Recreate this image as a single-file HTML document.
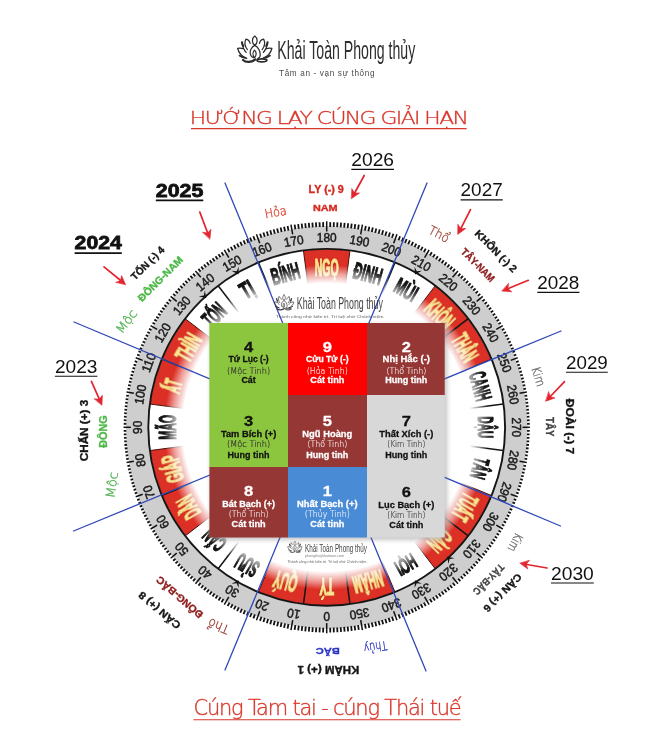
<!DOCTYPE html>
<html lang="vi"><head><meta charset="utf-8"><title>Hướng lạy cúng giải hạn</title>
<style>
html,body{margin:0;padding:0;background:#fff;}
body{width:665px;height:744px;overflow:hidden;}
svg{display:block;}
text{font-family:"Liberation Sans",sans-serif;}
.b{font-weight:bold;}
.lt{font-family:"DejaVu Sans Light","DejaVu Sans","Liberation Sans",sans-serif;font-weight:200;}
</style></head><body>
<svg width="665" height="744" viewBox="0 0 665 744">
<defs>
<radialGradient id="fade" gradientUnits="userSpaceOnUse" cx="326.7" cy="427.3" r="162.5">
<stop offset="0" stop-color="#fff" stop-opacity="1"/>
<stop offset="0.886" stop-color="#fff" stop-opacity="1"/>
<stop offset="0.945" stop-color="#fff" stop-opacity="0.55"/>
<stop offset="1" stop-color="#fff" stop-opacity="0"/>
</radialGradient>
<filter id="sh" x="-10%" y="-10%" width="120%" height="120%"><feGaussianBlur stdDeviation="1.9"/></filter>
<filter id="ts" x="-20%" y="-20%" width="140%" height="140%"><feDropShadow dx="0.5" dy="0.6" stdDeviation="0.7" flood-color="#7a2408" flood-opacity="0.95"/></filter>
<filter id="soft"><feGaussianBlur stdDeviation="0.35"/></filter>

</defs>
<rect width="665" height="744" fill="#fff"/>

<g id="sectors">
<path d="M349.93 603.78 A178.0 178.0 0 0 1 303.47 603.78 L309.47 558.17 A132.0 132.0 0 0 0 343.93 558.17 Z" fill="#dc3026"/>
<path d="M303.47 603.78 A178.0 178.0 0 0 1 258.58 591.75 L276.19 549.25 A132.0 132.0 0 0 0 309.47 558.17 Z" fill="#dc3026"/>
<path d="M185.48 535.66 A178.0 178.0 0 0 1 162.25 495.42 L204.75 477.81 A132.0 132.0 0 0 0 221.98 507.66 Z" fill="#dc3026"/>
<path d="M162.25 495.42 A178.0 178.0 0 0 1 150.22 450.53 L195.83 444.53 A132.0 132.0 0 0 0 204.75 477.81 Z" fill="#dc3026"/>
<path d="M150.22 404.07 A178.0 178.0 0 0 1 162.25 359.18 L204.75 376.79 A132.0 132.0 0 0 0 195.83 410.07 Z" fill="#dc3026"/>
<path d="M162.25 359.18 A178.0 178.0 0 0 1 185.48 318.94 L221.98 346.94 A132.0 132.0 0 0 0 204.75 376.79 Z" fill="#dc3026"/>
<path d="M303.47 250.82 A178.0 178.0 0 0 1 349.93 250.82 L343.93 296.43 A132.0 132.0 0 0 0 309.47 296.43 Z" fill="#dc3026"/>
<path d="M435.06 286.08 A178.0 178.0 0 0 1 467.92 318.94 L431.42 346.94 A132.0 132.0 0 0 0 407.06 322.58 Z" fill="#dc3026"/>
<path d="M467.92 318.94 A178.0 178.0 0 0 1 491.15 359.18 L448.65 376.79 A132.0 132.0 0 0 0 431.42 346.94 Z" fill="#dc3026"/>
<path d="M491.15 495.42 A178.0 178.0 0 0 1 467.92 535.66 L431.42 507.66 A132.0 132.0 0 0 0 448.65 477.81 Z" fill="#dc3026"/>
<path d="M467.92 535.66 A178.0 178.0 0 0 1 435.06 568.52 L407.06 532.02 A132.0 132.0 0 0 0 431.42 507.66 Z" fill="#dc3026"/>
<path d="M394.82 591.75 A178.0 178.0 0 0 1 349.93 603.78 L343.93 558.17 A132.0 132.0 0 0 0 377.21 549.25 Z" fill="#dc3026"/>
<line x1="303.47" y1="603.78" x2="309.47" y2="558.17" stroke="#141414" stroke-width="1.5"/>
<line x1="258.58" y1="591.75" x2="276.19" y2="549.25" stroke="#4a100c" stroke-width="1"/>
<line x1="218.34" y1="568.52" x2="246.34" y2="532.02" stroke="#141414" stroke-width="1.5"/>
<line x1="185.48" y1="535.66" x2="221.98" y2="507.66" stroke="#4a100c" stroke-width="1"/>
<line x1="162.25" y1="495.42" x2="204.75" y2="477.81" stroke="#141414" stroke-width="1.5"/>
<line x1="150.22" y1="450.53" x2="195.83" y2="444.53" stroke="#4a100c" stroke-width="1"/>
<line x1="150.22" y1="404.07" x2="195.83" y2="410.07" stroke="#4a100c" stroke-width="1"/>
<line x1="162.25" y1="359.18" x2="204.75" y2="376.79" stroke="#141414" stroke-width="1.5"/>
<line x1="185.48" y1="318.94" x2="221.98" y2="346.94" stroke="#4a100c" stroke-width="1"/>
<line x1="218.34" y1="286.08" x2="246.34" y2="322.58" stroke="#141414" stroke-width="1.5"/>
<line x1="258.58" y1="262.85" x2="276.19" y2="305.35" stroke="#141414" stroke-width="1.5"/>
<line x1="303.47" y1="250.82" x2="309.47" y2="296.43" stroke="#4a100c" stroke-width="1"/>
<line x1="349.93" y1="250.82" x2="343.93" y2="296.43" stroke="#4a100c" stroke-width="1"/>
<line x1="394.82" y1="262.85" x2="377.21" y2="305.35" stroke="#141414" stroke-width="1.5"/>
<line x1="435.06" y1="286.08" x2="407.06" y2="322.58" stroke="#4a100c" stroke-width="1"/>
<line x1="467.92" y1="318.94" x2="431.42" y2="346.94" stroke="#141414" stroke-width="1.5"/>
<line x1="491.15" y1="359.18" x2="448.65" y2="376.79" stroke="#4a100c" stroke-width="1"/>
<line x1="503.18" y1="404.07" x2="457.57" y2="410.07" stroke="#141414" stroke-width="1.5"/>
<line x1="503.18" y1="450.53" x2="457.57" y2="444.53" stroke="#141414" stroke-width="1.5"/>
<line x1="491.15" y1="495.42" x2="448.65" y2="477.81" stroke="#4a100c" stroke-width="1"/>
<line x1="467.92" y1="535.66" x2="431.42" y2="507.66" stroke="#141414" stroke-width="1.5"/>
<line x1="435.06" y1="568.52" x2="407.06" y2="532.02" stroke="#4a100c" stroke-width="1"/>
<line x1="394.82" y1="591.75" x2="377.21" y2="549.25" stroke="#4a100c" stroke-width="1"/>
<line x1="349.93" y1="603.78" x2="343.93" y2="558.17" stroke="#141414" stroke-width="1.5"/>
</g>
<g id="sectext" class="b" text-anchor="middle" stroke-linejoin="round">
<text transform="translate(326.7 578.3) rotate(-180) scale(0.44 1)" font-size="23.6" textLength="32.95" lengthAdjust="spacingAndGlyphs" fill="#ffe48e" stroke="#ffe48e" stroke-width="1.0" filter="url(#ts)">TÝ</text>
<text transform="translate(287.62 573.15) rotate(-165) scale(0.44 1)" font-size="23.6" textLength="54.55" lengthAdjust="spacingAndGlyphs" fill="#ffe48e" stroke="#ffe48e" stroke-width="1.0" filter="url(#ts)">QUÝ</text>
<text transform="translate(251.2 558.07) rotate(-150) scale(0.44 1)" font-size="23.6" textLength="52.27" lengthAdjust="spacingAndGlyphs" fill="#141414" stroke="#141414" stroke-width="1.3">SỬU</text>
<text transform="translate(219.93 534.07) rotate(-135) scale(0.44 1)" font-size="22.18" textLength="51.14" lengthAdjust="spacingAndGlyphs" fill="#141414" stroke="#141414" stroke-width="1.3">CẤN</text>
<text transform="translate(195.93 502.8) rotate(-120) scale(0.44 1)" font-size="23.6" textLength="52.27" lengthAdjust="spacingAndGlyphs" fill="#ffe48e" stroke="#ffe48e" stroke-width="1.0" filter="url(#ts)">DẦN</text>
<text transform="translate(180.85 466.38) rotate(-105) scale(0.44 1)" font-size="23.6" textLength="63.64" lengthAdjust="spacingAndGlyphs" fill="#ffe48e" stroke="#ffe48e" stroke-width="1.0" filter="url(#ts)">GIÁP</text>
<text transform="translate(175.7 427.3) rotate(-90) scale(0.44 1)" font-size="23.6" textLength="56.82" lengthAdjust="spacingAndGlyphs" fill="#141414" stroke="#141414" stroke-width="1.3">MÃO</text>
<text transform="translate(180.85 388.22) rotate(-75) scale(0.44 1)" font-size="23.6" textLength="29.55" lengthAdjust="spacingAndGlyphs" fill="#ffe48e" stroke="#ffe48e" stroke-width="1.0" filter="url(#ts)">ẤT</text>
<text transform="translate(195.93 351.8) rotate(-60) scale(0.44 1)" font-size="23.6" textLength="63.64" lengthAdjust="spacingAndGlyphs" fill="#ffe48e" stroke="#ffe48e" stroke-width="1.0" filter="url(#ts)">THÌN</text>
<text transform="translate(219.93 320.53) rotate(-45) scale(0.44 1)" font-size="23.6" textLength="52.27" lengthAdjust="spacingAndGlyphs" fill="#141414" stroke="#141414" stroke-width="1.3">TỐN</text>
<text transform="translate(251.2 296.53) rotate(-30) scale(0.44 1)" font-size="23.6" textLength="29.55" lengthAdjust="spacingAndGlyphs" fill="#141414" stroke="#141414" stroke-width="1.3">TỊ</text>
<text transform="translate(287.62 281.45) rotate(-15) scale(0.44 1)" font-size="23.6" textLength="65.91" lengthAdjust="spacingAndGlyphs" fill="#141414" stroke="#141414" stroke-width="1.3">BÍNH</text>
<text transform="translate(326.7 276.3) rotate(0) scale(0.44 1)" font-size="23.6" textLength="54.55" lengthAdjust="spacingAndGlyphs" fill="#ffe48e" stroke="#ffe48e" stroke-width="1.0" filter="url(#ts)">NGỌ</text>
<text transform="translate(365.78 281.45) rotate(15) scale(0.44 1)" font-size="23.6" textLength="65.91" lengthAdjust="spacingAndGlyphs" fill="#141414" stroke="#141414" stroke-width="1.3">ĐINH</text>
<text transform="translate(402.2 296.53) rotate(30) scale(0.44 1)" font-size="22.66" textLength="52.27" lengthAdjust="spacingAndGlyphs" fill="#141414" stroke="#141414" stroke-width="1.3">MÙI</text>
<text transform="translate(433.47 320.53) rotate(45) scale(0.44 1)" font-size="23.6" textLength="68.18" lengthAdjust="spacingAndGlyphs" fill="#ffe48e" stroke="#ffe48e" stroke-width="1.0" filter="url(#ts)">KHÔN</text>
<text transform="translate(457.47 351.8) rotate(60) scale(0.44 1)" font-size="23.6" textLength="63.64" lengthAdjust="spacingAndGlyphs" fill="#ffe48e" stroke="#ffe48e" stroke-width="1.0" filter="url(#ts)">THÂN</text>
<text transform="translate(472.55 388.22) rotate(75) scale(0.44 1)" font-size="23.6" textLength="65.91" lengthAdjust="spacingAndGlyphs" fill="#141414" stroke="#141414" stroke-width="1.3">CANH</text>
<text transform="translate(477.7 427.3) rotate(90) scale(0.44 1)" font-size="21.71" textLength="48.86" lengthAdjust="spacingAndGlyphs" fill="#141414" stroke="#141414" stroke-width="1.3">DẬU</text>
<text transform="translate(472.55 466.38) rotate(105) scale(0.44 1)" font-size="21.71" textLength="47.73" lengthAdjust="spacingAndGlyphs" fill="#141414" stroke="#141414" stroke-width="1.3">TÂN</text>
<text transform="translate(457.47 502.8) rotate(120) scale(0.44 1)" font-size="23.6" textLength="63.64" lengthAdjust="spacingAndGlyphs" fill="#ffe48e" stroke="#ffe48e" stroke-width="1.0" filter="url(#ts)">TUẤT</text>
<text transform="translate(433.47 534.07) rotate(135) scale(0.44 1)" font-size="23.6" textLength="52.27" lengthAdjust="spacingAndGlyphs" fill="#ffe48e" stroke="#ffe48e" stroke-width="1.0" filter="url(#ts)">CÀN</text>
<text transform="translate(402.2 558.07) rotate(150) scale(0.44 1)" font-size="21.71" textLength="47.73" lengthAdjust="spacingAndGlyphs" fill="#141414" stroke="#141414" stroke-width="1.3">HỢI</text>
<text transform="translate(365.78 573.15) rotate(165) scale(0.44 1)" font-size="23.6" textLength="68.18" lengthAdjust="spacingAndGlyphs" fill="#ffe48e" stroke="#ffe48e" stroke-width="1.0" filter="url(#ts)">NHÂM</text>
</g>
<circle cx="326.7" cy="427.3" r="165" fill="url(#fade)"/>
<ellipse cx="326.7" cy="427.3" rx="189.3" ry="189.9" fill="none" stroke="#cecece" stroke-width="23"/>
<circle cx="326.7" cy="427.3" r="178.4" fill="none" stroke="#151515" stroke-width="1.9"/>
<g stroke="#111">
<line x1="326.7" y1="623.1" x2="326.7" y2="633.3" stroke-width="1.5"/>
<line x1="323.2" y1="627.67" x2="323.12" y2="632.47" stroke-width="1.8"/>
<line x1="319.71" y1="627.58" x2="319.54" y2="632.37" stroke-width="1.8"/>
<line x1="316.21" y1="627.43" x2="315.96" y2="632.21" stroke-width="1.8"/>
<line x1="312.72" y1="627.21" x2="312.39" y2="631.98" stroke-width="1.8"/>
<line x1="309.23" y1="626.94" x2="308.82" y2="631.69" stroke-width="1.8"/>
<line x1="305.75" y1="626.6" x2="305.26" y2="631.33" stroke-width="1.8"/>
<line x1="302.28" y1="626.21" x2="301.7" y2="630.91" stroke-width="1.8"/>
<line x1="298.81" y1="625.75" x2="298.15" y2="630.42" stroke-width="1.8"/>
<line x1="295.35" y1="625.23" x2="294.62" y2="629.87" stroke-width="1.8"/>
<line x1="292.7" y1="620.13" x2="290.96" y2="630.01" stroke-width="1.5"/>
<line x1="288.46" y1="624.02" x2="287.58" y2="628.58" stroke-width="1.8"/>
<line x1="285.03" y1="623.32" x2="284.08" y2="627.83" stroke-width="1.8"/>
<line x1="281.62" y1="622.56" x2="280.59" y2="627.03" stroke-width="1.8"/>
<line x1="278.22" y1="621.75" x2="277.12" y2="626.16" stroke-width="1.8"/>
<line x1="274.83" y1="620.87" x2="273.66" y2="625.23" stroke-width="1.8"/>
<line x1="271.46" y1="619.94" x2="270.23" y2="624.24" stroke-width="1.8"/>
<line x1="268.11" y1="618.94" x2="266.81" y2="623.19" stroke-width="1.8"/>
<line x1="264.77" y1="617.89" x2="263.41" y2="622.08" stroke-width="1.8"/>
<line x1="261.46" y1="616.78" x2="260.04" y2="620.9" stroke-width="1.8"/>
<line x1="259.73" y1="611.29" x2="256.45" y2="620.3" stroke-width="1.5"/>
<line x1="254.88" y1="614.39" x2="253.35" y2="618.38" stroke-width="1.8"/>
<line x1="251.63" y1="613.11" x2="250.05" y2="617.03" stroke-width="1.8"/>
<line x1="248.4" y1="611.77" x2="246.76" y2="615.62" stroke-width="1.8"/>
<line x1="245.19" y1="610.37" x2="243.51" y2="614.15" stroke-width="1.8"/>
<line x1="242.01" y1="608.92" x2="240.28" y2="612.63" stroke-width="1.8"/>
<line x1="238.85" y1="607.42" x2="237.08" y2="611.05" stroke-width="1.8"/>
<line x1="235.72" y1="605.86" x2="233.91" y2="609.41" stroke-width="1.8"/>
<line x1="232.62" y1="604.24" x2="230.77" y2="607.72" stroke-width="1.8"/>
<line x1="229.54" y1="602.57" x2="227.66" y2="605.97" stroke-width="1.8"/>
<line x1="228.8" y1="596.87" x2="224.31" y2="604.64" stroke-width="1.5"/>
<line x1="223.49" y1="599.08" x2="221.54" y2="602.32" stroke-width="1.8"/>
<line x1="220.5" y1="597.25" x2="218.52" y2="600.42" stroke-width="1.8"/>
<line x1="217.55" y1="595.37" x2="215.55" y2="598.46" stroke-width="1.8"/>
<line x1="214.64" y1="593.44" x2="212.6" y2="596.46" stroke-width="1.8"/>
<line x1="211.76" y1="591.46" x2="209.7" y2="594.4" stroke-width="1.8"/>
<line x1="208.91" y1="589.43" x2="206.83" y2="592.29" stroke-width="1.8"/>
<line x1="206.1" y1="587.35" x2="203.99" y2="590.14" stroke-width="1.8"/>
<line x1="203.32" y1="585.22" x2="201.2" y2="587.93" stroke-width="1.8"/>
<line x1="200.58" y1="583.04" x2="198.44" y2="585.68" stroke-width="1.8"/>
<line x1="200.84" y1="577.29" x2="195.47" y2="583.7" stroke-width="1.5"/>
<line x1="195.23" y1="578.54" x2="193.05" y2="581.04" stroke-width="1.8"/>
<line x1="192.61" y1="576.23" x2="190.42" y2="578.66" stroke-width="1.8"/>
<line x1="190.03" y1="573.86" x2="187.83" y2="576.23" stroke-width="1.8"/>
<line x1="187.49" y1="571.46" x2="185.28" y2="573.75" stroke-width="1.8"/>
<line x1="185" y1="569" x2="182.77" y2="571.23" stroke-width="1.8"/>
<line x1="182.54" y1="566.51" x2="180.31" y2="568.67" stroke-width="1.8"/>
<line x1="180.14" y1="563.97" x2="177.89" y2="566.07" stroke-width="1.8"/>
<line x1="177.77" y1="561.39" x2="175.51" y2="563.43" stroke-width="1.8"/>
<line x1="175.46" y1="558.77" x2="173.19" y2="560.75" stroke-width="1.8"/>
<line x1="176.71" y1="553.16" x2="170.67" y2="558.22" stroke-width="1.5"/>
<line x1="170.96" y1="553.42" x2="168.67" y2="555.27" stroke-width="1.8"/>
<line x1="168.78" y1="550.68" x2="166.48" y2="552.47" stroke-width="1.8"/>
<line x1="166.65" y1="547.9" x2="164.35" y2="549.64" stroke-width="1.8"/>
<line x1="164.57" y1="545.09" x2="162.26" y2="546.77" stroke-width="1.8"/>
<line x1="162.54" y1="542.24" x2="160.22" y2="543.87" stroke-width="1.8"/>
<line x1="160.56" y1="539.36" x2="158.23" y2="540.94" stroke-width="1.8"/>
<line x1="158.63" y1="536.45" x2="156.29" y2="537.97" stroke-width="1.8"/>
<line x1="156.75" y1="533.5" x2="154.4" y2="534.97" stroke-width="1.8"/>
<line x1="154.92" y1="530.51" x2="152.56" y2="531.93" stroke-width="1.8"/>
<line x1="157.13" y1="525.2" x2="150.57" y2="528.99" stroke-width="1.5"/>
<line x1="151.43" y1="524.46" x2="149.05" y2="525.78" stroke-width="1.8"/>
<line x1="149.76" y1="521.38" x2="147.37" y2="522.65" stroke-width="1.8"/>
<line x1="148.14" y1="518.28" x2="145.74" y2="519.5" stroke-width="1.8"/>
<line x1="146.58" y1="515.15" x2="144.17" y2="516.32" stroke-width="1.8"/>
<line x1="145.08" y1="511.99" x2="142.66" y2="513.12" stroke-width="1.8"/>
<line x1="143.63" y1="508.81" x2="141.2" y2="509.89" stroke-width="1.8"/>
<line x1="142.23" y1="505.6" x2="139.79" y2="506.64" stroke-width="1.8"/>
<line x1="140.89" y1="502.37" x2="138.44" y2="503.36" stroke-width="1.8"/>
<line x1="139.61" y1="499.12" x2="137.15" y2="500.06" stroke-width="1.8"/>
<line x1="142.71" y1="494.27" x2="135.72" y2="496.81" stroke-width="1.5"/>
<line x1="137.22" y1="492.54" x2="134.74" y2="493.4" stroke-width="1.8"/>
<line x1="136.11" y1="489.23" x2="133.62" y2="490.04" stroke-width="1.8"/>
<line x1="135.06" y1="485.89" x2="132.55" y2="486.66" stroke-width="1.8"/>
<line x1="134.06" y1="482.54" x2="131.55" y2="483.26" stroke-width="1.8"/>
<line x1="133.13" y1="479.17" x2="130.61" y2="479.84" stroke-width="1.8"/>
<line x1="132.25" y1="475.78" x2="129.72" y2="476.41" stroke-width="1.8"/>
<line x1="131.44" y1="472.38" x2="128.9" y2="472.97" stroke-width="1.8"/>
<line x1="130.68" y1="468.97" x2="128.13" y2="469.51" stroke-width="1.8"/>
<line x1="129.98" y1="465.54" x2="127.43" y2="466.03" stroke-width="1.8"/>
<line x1="133.87" y1="461.3" x2="126.58" y2="462.59" stroke-width="1.5"/>
<line x1="128.77" y1="458.65" x2="126.2" y2="459.06" stroke-width="1.8"/>
<line x1="128.25" y1="455.19" x2="125.67" y2="455.55" stroke-width="1.8"/>
<line x1="127.79" y1="451.72" x2="125.21" y2="452.04" stroke-width="1.8"/>
<line x1="127.4" y1="448.25" x2="124.81" y2="448.52" stroke-width="1.8"/>
<line x1="127.06" y1="444.77" x2="124.47" y2="444.99" stroke-width="1.8"/>
<line x1="126.79" y1="441.28" x2="124.19" y2="441.46" stroke-width="1.8"/>
<line x1="126.57" y1="437.79" x2="123.98" y2="437.92" stroke-width="1.8"/>
<line x1="126.42" y1="434.29" x2="123.82" y2="434.38" stroke-width="1.8"/>
<line x1="126.33" y1="430.8" x2="123.73" y2="430.84" stroke-width="1.8"/>
<line x1="130.9" y1="427.3" x2="123.5" y2="427.3" stroke-width="1.5"/>
<line x1="126.33" y1="423.8" x2="123.73" y2="423.76" stroke-width="1.8"/>
<line x1="126.42" y1="420.31" x2="123.82" y2="420.22" stroke-width="1.8"/>
<line x1="126.57" y1="416.81" x2="123.98" y2="416.68" stroke-width="1.8"/>
<line x1="126.79" y1="413.32" x2="124.19" y2="413.14" stroke-width="1.8"/>
<line x1="127.06" y1="409.83" x2="124.47" y2="409.61" stroke-width="1.8"/>
<line x1="127.4" y1="406.35" x2="124.81" y2="406.08" stroke-width="1.8"/>
<line x1="127.79" y1="402.88" x2="125.21" y2="402.56" stroke-width="1.8"/>
<line x1="128.25" y1="399.41" x2="125.67" y2="399.05" stroke-width="1.8"/>
<line x1="128.77" y1="395.95" x2="126.2" y2="395.54" stroke-width="1.8"/>
<line x1="133.87" y1="393.3" x2="126.58" y2="392.01" stroke-width="1.5"/>
<line x1="129.98" y1="389.06" x2="127.43" y2="388.57" stroke-width="1.8"/>
<line x1="130.68" y1="385.63" x2="128.13" y2="385.09" stroke-width="1.8"/>
<line x1="131.44" y1="382.22" x2="128.9" y2="381.63" stroke-width="1.8"/>
<line x1="132.25" y1="378.82" x2="129.72" y2="378.19" stroke-width="1.8"/>
<line x1="133.13" y1="375.43" x2="130.61" y2="374.76" stroke-width="1.8"/>
<line x1="134.06" y1="372.06" x2="131.55" y2="371.34" stroke-width="1.8"/>
<line x1="135.06" y1="368.71" x2="132.55" y2="367.94" stroke-width="1.8"/>
<line x1="136.11" y1="365.37" x2="133.62" y2="364.56" stroke-width="1.8"/>
<line x1="137.22" y1="362.06" x2="134.74" y2="361.2" stroke-width="1.8"/>
<line x1="142.71" y1="360.33" x2="135.72" y2="357.79" stroke-width="1.5"/>
<line x1="139.61" y1="355.48" x2="137.15" y2="354.54" stroke-width="1.8"/>
<line x1="140.89" y1="352.23" x2="138.44" y2="351.24" stroke-width="1.8"/>
<line x1="142.23" y1="349" x2="139.79" y2="347.96" stroke-width="1.8"/>
<line x1="143.63" y1="345.79" x2="141.2" y2="344.71" stroke-width="1.8"/>
<line x1="145.08" y1="342.61" x2="142.66" y2="341.48" stroke-width="1.8"/>
<line x1="146.58" y1="339.45" x2="144.17" y2="338.28" stroke-width="1.8"/>
<line x1="148.14" y1="336.32" x2="145.74" y2="335.1" stroke-width="1.8"/>
<line x1="149.76" y1="333.22" x2="147.37" y2="331.95" stroke-width="1.8"/>
<line x1="151.43" y1="330.14" x2="149.05" y2="328.82" stroke-width="1.8"/>
<line x1="157.13" y1="329.4" x2="150.57" y2="325.61" stroke-width="1.5"/>
<line x1="154.92" y1="324.09" x2="152.56" y2="322.67" stroke-width="1.8"/>
<line x1="156.75" y1="321.1" x2="154.4" y2="319.63" stroke-width="1.8"/>
<line x1="158.63" y1="318.15" x2="156.29" y2="316.63" stroke-width="1.8"/>
<line x1="160.56" y1="315.24" x2="158.23" y2="313.66" stroke-width="1.8"/>
<line x1="162.54" y1="312.36" x2="160.22" y2="310.73" stroke-width="1.8"/>
<line x1="164.57" y1="309.51" x2="162.26" y2="307.83" stroke-width="1.8"/>
<line x1="166.65" y1="306.7" x2="164.35" y2="304.96" stroke-width="1.8"/>
<line x1="168.78" y1="303.92" x2="166.48" y2="302.13" stroke-width="1.8"/>
<line x1="170.96" y1="301.18" x2="168.67" y2="299.33" stroke-width="1.8"/>
<line x1="176.71" y1="301.44" x2="170.67" y2="296.38" stroke-width="1.5"/>
<line x1="175.46" y1="295.83" x2="173.19" y2="293.85" stroke-width="1.8"/>
<line x1="177.77" y1="293.21" x2="175.51" y2="291.17" stroke-width="1.8"/>
<line x1="180.14" y1="290.63" x2="177.89" y2="288.53" stroke-width="1.8"/>
<line x1="182.54" y1="288.09" x2="180.31" y2="285.93" stroke-width="1.8"/>
<line x1="185" y1="285.6" x2="182.77" y2="283.37" stroke-width="1.8"/>
<line x1="187.49" y1="283.14" x2="185.28" y2="280.85" stroke-width="1.8"/>
<line x1="190.03" y1="280.74" x2="187.83" y2="278.37" stroke-width="1.8"/>
<line x1="192.61" y1="278.37" x2="190.42" y2="275.94" stroke-width="1.8"/>
<line x1="195.23" y1="276.06" x2="193.05" y2="273.56" stroke-width="1.8"/>
<line x1="200.84" y1="277.31" x2="195.47" y2="270.9" stroke-width="1.5"/>
<line x1="200.58" y1="271.56" x2="198.44" y2="268.92" stroke-width="1.8"/>
<line x1="203.32" y1="269.38" x2="201.2" y2="266.67" stroke-width="1.8"/>
<line x1="206.1" y1="267.25" x2="203.99" y2="264.46" stroke-width="1.8"/>
<line x1="208.91" y1="265.17" x2="206.83" y2="262.31" stroke-width="1.8"/>
<line x1="211.76" y1="263.14" x2="209.7" y2="260.2" stroke-width="1.8"/>
<line x1="214.64" y1="261.16" x2="212.6" y2="258.14" stroke-width="1.8"/>
<line x1="217.55" y1="259.23" x2="215.55" y2="256.14" stroke-width="1.8"/>
<line x1="220.5" y1="257.35" x2="218.52" y2="254.18" stroke-width="1.8"/>
<line x1="223.49" y1="255.52" x2="221.54" y2="252.28" stroke-width="1.8"/>
<line x1="228.8" y1="257.73" x2="224.31" y2="249.96" stroke-width="1.5"/>
<line x1="229.54" y1="252.03" x2="227.66" y2="248.63" stroke-width="1.8"/>
<line x1="232.62" y1="250.36" x2="230.77" y2="246.88" stroke-width="1.8"/>
<line x1="235.72" y1="248.74" x2="233.91" y2="245.19" stroke-width="1.8"/>
<line x1="238.85" y1="247.18" x2="237.08" y2="243.55" stroke-width="1.8"/>
<line x1="242.01" y1="245.68" x2="240.28" y2="241.97" stroke-width="1.8"/>
<line x1="245.19" y1="244.23" x2="243.51" y2="240.45" stroke-width="1.8"/>
<line x1="248.4" y1="242.83" x2="246.76" y2="238.98" stroke-width="1.8"/>
<line x1="251.63" y1="241.49" x2="250.05" y2="237.57" stroke-width="1.8"/>
<line x1="254.88" y1="240.21" x2="253.35" y2="236.22" stroke-width="1.8"/>
<line x1="259.73" y1="243.31" x2="256.45" y2="234.3" stroke-width="1.5"/>
<line x1="261.46" y1="237.82" x2="260.04" y2="233.7" stroke-width="1.8"/>
<line x1="264.77" y1="236.71" x2="263.41" y2="232.52" stroke-width="1.8"/>
<line x1="268.11" y1="235.66" x2="266.81" y2="231.41" stroke-width="1.8"/>
<line x1="271.46" y1="234.66" x2="270.23" y2="230.36" stroke-width="1.8"/>
<line x1="274.83" y1="233.73" x2="273.66" y2="229.37" stroke-width="1.8"/>
<line x1="278.22" y1="232.85" x2="277.12" y2="228.44" stroke-width="1.8"/>
<line x1="281.62" y1="232.04" x2="280.59" y2="227.57" stroke-width="1.8"/>
<line x1="285.03" y1="231.28" x2="284.08" y2="226.77" stroke-width="1.8"/>
<line x1="288.46" y1="230.58" x2="287.58" y2="226.02" stroke-width="1.8"/>
<line x1="292.7" y1="234.47" x2="290.96" y2="224.59" stroke-width="1.5"/>
<line x1="295.35" y1="229.37" x2="294.62" y2="224.73" stroke-width="1.8"/>
<line x1="298.81" y1="228.85" x2="298.15" y2="224.18" stroke-width="1.8"/>
<line x1="302.28" y1="228.39" x2="301.7" y2="223.69" stroke-width="1.8"/>
<line x1="305.75" y1="228" x2="305.26" y2="223.27" stroke-width="1.8"/>
<line x1="309.23" y1="227.66" x2="308.82" y2="222.91" stroke-width="1.8"/>
<line x1="312.72" y1="227.39" x2="312.39" y2="222.62" stroke-width="1.8"/>
<line x1="316.21" y1="227.17" x2="315.96" y2="222.39" stroke-width="1.8"/>
<line x1="319.71" y1="227.02" x2="319.54" y2="222.23" stroke-width="1.8"/>
<line x1="323.2" y1="226.93" x2="323.12" y2="222.13" stroke-width="1.8"/>
<line x1="326.7" y1="231.5" x2="326.7" y2="221.3" stroke-width="1.5"/>
<line x1="330.2" y1="226.93" x2="330.28" y2="222.13" stroke-width="1.8"/>
<line x1="333.69" y1="227.02" x2="333.86" y2="222.23" stroke-width="1.8"/>
<line x1="337.19" y1="227.17" x2="337.44" y2="222.39" stroke-width="1.8"/>
<line x1="340.68" y1="227.39" x2="341.01" y2="222.62" stroke-width="1.8"/>
<line x1="344.17" y1="227.66" x2="344.58" y2="222.91" stroke-width="1.8"/>
<line x1="347.65" y1="228" x2="348.14" y2="223.27" stroke-width="1.8"/>
<line x1="351.12" y1="228.39" x2="351.7" y2="223.69" stroke-width="1.8"/>
<line x1="354.59" y1="228.85" x2="355.25" y2="224.18" stroke-width="1.8"/>
<line x1="358.05" y1="229.37" x2="358.78" y2="224.73" stroke-width="1.8"/>
<line x1="360.7" y1="234.47" x2="362.44" y2="224.59" stroke-width="1.5"/>
<line x1="364.94" y1="230.58" x2="365.82" y2="226.02" stroke-width="1.8"/>
<line x1="368.37" y1="231.28" x2="369.32" y2="226.77" stroke-width="1.8"/>
<line x1="371.78" y1="232.04" x2="372.81" y2="227.57" stroke-width="1.8"/>
<line x1="375.18" y1="232.85" x2="376.28" y2="228.44" stroke-width="1.8"/>
<line x1="378.57" y1="233.73" x2="379.74" y2="229.37" stroke-width="1.8"/>
<line x1="381.94" y1="234.66" x2="383.17" y2="230.36" stroke-width="1.8"/>
<line x1="385.29" y1="235.66" x2="386.59" y2="231.41" stroke-width="1.8"/>
<line x1="388.63" y1="236.71" x2="389.99" y2="232.52" stroke-width="1.8"/>
<line x1="391.94" y1="237.82" x2="393.36" y2="233.7" stroke-width="1.8"/>
<line x1="393.67" y1="243.31" x2="396.95" y2="234.3" stroke-width="1.5"/>
<line x1="398.52" y1="240.21" x2="400.05" y2="236.22" stroke-width="1.8"/>
<line x1="401.77" y1="241.49" x2="403.35" y2="237.57" stroke-width="1.8"/>
<line x1="405" y1="242.83" x2="406.64" y2="238.98" stroke-width="1.8"/>
<line x1="408.21" y1="244.23" x2="409.89" y2="240.45" stroke-width="1.8"/>
<line x1="411.39" y1="245.68" x2="413.12" y2="241.97" stroke-width="1.8"/>
<line x1="414.55" y1="247.18" x2="416.32" y2="243.55" stroke-width="1.8"/>
<line x1="417.68" y1="248.74" x2="419.49" y2="245.19" stroke-width="1.8"/>
<line x1="420.78" y1="250.36" x2="422.63" y2="246.88" stroke-width="1.8"/>
<line x1="423.86" y1="252.03" x2="425.74" y2="248.63" stroke-width="1.8"/>
<line x1="424.6" y1="257.73" x2="429.09" y2="249.96" stroke-width="1.5"/>
<line x1="429.91" y1="255.52" x2="431.86" y2="252.28" stroke-width="1.8"/>
<line x1="432.9" y1="257.35" x2="434.88" y2="254.18" stroke-width="1.8"/>
<line x1="435.85" y1="259.23" x2="437.85" y2="256.14" stroke-width="1.8"/>
<line x1="438.76" y1="261.16" x2="440.8" y2="258.14" stroke-width="1.8"/>
<line x1="441.64" y1="263.14" x2="443.7" y2="260.2" stroke-width="1.8"/>
<line x1="444.49" y1="265.17" x2="446.57" y2="262.31" stroke-width="1.8"/>
<line x1="447.3" y1="267.25" x2="449.41" y2="264.46" stroke-width="1.8"/>
<line x1="450.08" y1="269.38" x2="452.2" y2="266.67" stroke-width="1.8"/>
<line x1="452.82" y1="271.56" x2="454.96" y2="268.92" stroke-width="1.8"/>
<line x1="452.56" y1="277.31" x2="457.93" y2="270.9" stroke-width="1.5"/>
<line x1="458.17" y1="276.06" x2="460.35" y2="273.56" stroke-width="1.8"/>
<line x1="460.79" y1="278.37" x2="462.98" y2="275.94" stroke-width="1.8"/>
<line x1="463.37" y1="280.74" x2="465.57" y2="278.37" stroke-width="1.8"/>
<line x1="465.91" y1="283.14" x2="468.12" y2="280.85" stroke-width="1.8"/>
<line x1="468.4" y1="285.6" x2="470.63" y2="283.37" stroke-width="1.8"/>
<line x1="470.86" y1="288.09" x2="473.09" y2="285.93" stroke-width="1.8"/>
<line x1="473.26" y1="290.63" x2="475.51" y2="288.53" stroke-width="1.8"/>
<line x1="475.63" y1="293.21" x2="477.89" y2="291.17" stroke-width="1.8"/>
<line x1="477.94" y1="295.83" x2="480.21" y2="293.85" stroke-width="1.8"/>
<line x1="476.69" y1="301.44" x2="482.73" y2="296.38" stroke-width="1.5"/>
<line x1="482.44" y1="301.18" x2="484.73" y2="299.33" stroke-width="1.8"/>
<line x1="484.62" y1="303.92" x2="486.92" y2="302.13" stroke-width="1.8"/>
<line x1="486.75" y1="306.7" x2="489.05" y2="304.96" stroke-width="1.8"/>
<line x1="488.83" y1="309.51" x2="491.14" y2="307.83" stroke-width="1.8"/>
<line x1="490.86" y1="312.36" x2="493.18" y2="310.73" stroke-width="1.8"/>
<line x1="492.84" y1="315.24" x2="495.17" y2="313.66" stroke-width="1.8"/>
<line x1="494.77" y1="318.15" x2="497.11" y2="316.63" stroke-width="1.8"/>
<line x1="496.65" y1="321.1" x2="499" y2="319.63" stroke-width="1.8"/>
<line x1="498.48" y1="324.09" x2="500.84" y2="322.67" stroke-width="1.8"/>
<line x1="496.27" y1="329.4" x2="502.83" y2="325.61" stroke-width="1.5"/>
<line x1="501.97" y1="330.14" x2="504.35" y2="328.82" stroke-width="1.8"/>
<line x1="503.64" y1="333.22" x2="506.03" y2="331.95" stroke-width="1.8"/>
<line x1="505.26" y1="336.32" x2="507.66" y2="335.1" stroke-width="1.8"/>
<line x1="506.82" y1="339.45" x2="509.23" y2="338.28" stroke-width="1.8"/>
<line x1="508.32" y1="342.61" x2="510.74" y2="341.48" stroke-width="1.8"/>
<line x1="509.77" y1="345.79" x2="512.2" y2="344.71" stroke-width="1.8"/>
<line x1="511.17" y1="349" x2="513.61" y2="347.96" stroke-width="1.8"/>
<line x1="512.51" y1="352.23" x2="514.96" y2="351.24" stroke-width="1.8"/>
<line x1="513.79" y1="355.48" x2="516.25" y2="354.54" stroke-width="1.8"/>
<line x1="510.69" y1="360.33" x2="517.68" y2="357.79" stroke-width="1.5"/>
<line x1="516.18" y1="362.06" x2="518.66" y2="361.2" stroke-width="1.8"/>
<line x1="517.29" y1="365.37" x2="519.78" y2="364.56" stroke-width="1.8"/>
<line x1="518.34" y1="368.71" x2="520.85" y2="367.94" stroke-width="1.8"/>
<line x1="519.34" y1="372.06" x2="521.85" y2="371.34" stroke-width="1.8"/>
<line x1="520.27" y1="375.43" x2="522.79" y2="374.76" stroke-width="1.8"/>
<line x1="521.15" y1="378.82" x2="523.68" y2="378.19" stroke-width="1.8"/>
<line x1="521.96" y1="382.22" x2="524.5" y2="381.63" stroke-width="1.8"/>
<line x1="522.72" y1="385.63" x2="525.27" y2="385.09" stroke-width="1.8"/>
<line x1="523.42" y1="389.06" x2="525.97" y2="388.57" stroke-width="1.8"/>
<line x1="519.53" y1="393.3" x2="526.82" y2="392.01" stroke-width="1.5"/>
<line x1="524.63" y1="395.95" x2="527.2" y2="395.54" stroke-width="1.8"/>
<line x1="525.15" y1="399.41" x2="527.73" y2="399.05" stroke-width="1.8"/>
<line x1="525.61" y1="402.88" x2="528.19" y2="402.56" stroke-width="1.8"/>
<line x1="526" y1="406.35" x2="528.59" y2="406.08" stroke-width="1.8"/>
<line x1="526.34" y1="409.83" x2="528.93" y2="409.61" stroke-width="1.8"/>
<line x1="526.61" y1="413.32" x2="529.21" y2="413.14" stroke-width="1.8"/>
<line x1="526.83" y1="416.81" x2="529.42" y2="416.68" stroke-width="1.8"/>
<line x1="526.98" y1="420.31" x2="529.58" y2="420.22" stroke-width="1.8"/>
<line x1="527.07" y1="423.8" x2="529.67" y2="423.76" stroke-width="1.8"/>
<line x1="522.5" y1="427.3" x2="529.9" y2="427.3" stroke-width="1.5"/>
<line x1="527.07" y1="430.8" x2="529.67" y2="430.84" stroke-width="1.8"/>
<line x1="526.98" y1="434.29" x2="529.58" y2="434.38" stroke-width="1.8"/>
<line x1="526.83" y1="437.79" x2="529.42" y2="437.92" stroke-width="1.8"/>
<line x1="526.61" y1="441.28" x2="529.21" y2="441.46" stroke-width="1.8"/>
<line x1="526.34" y1="444.77" x2="528.93" y2="444.99" stroke-width="1.8"/>
<line x1="526" y1="448.25" x2="528.59" y2="448.52" stroke-width="1.8"/>
<line x1="525.61" y1="451.72" x2="528.19" y2="452.04" stroke-width="1.8"/>
<line x1="525.15" y1="455.19" x2="527.73" y2="455.55" stroke-width="1.8"/>
<line x1="524.63" y1="458.65" x2="527.2" y2="459.06" stroke-width="1.8"/>
<line x1="519.53" y1="461.3" x2="526.82" y2="462.59" stroke-width="1.5"/>
<line x1="523.42" y1="465.54" x2="525.97" y2="466.03" stroke-width="1.8"/>
<line x1="522.72" y1="468.97" x2="525.27" y2="469.51" stroke-width="1.8"/>
<line x1="521.96" y1="472.38" x2="524.5" y2="472.97" stroke-width="1.8"/>
<line x1="521.15" y1="475.78" x2="523.68" y2="476.41" stroke-width="1.8"/>
<line x1="520.27" y1="479.17" x2="522.79" y2="479.84" stroke-width="1.8"/>
<line x1="519.34" y1="482.54" x2="521.85" y2="483.26" stroke-width="1.8"/>
<line x1="518.34" y1="485.89" x2="520.85" y2="486.66" stroke-width="1.8"/>
<line x1="517.29" y1="489.23" x2="519.78" y2="490.04" stroke-width="1.8"/>
<line x1="516.18" y1="492.54" x2="518.66" y2="493.4" stroke-width="1.8"/>
<line x1="510.69" y1="494.27" x2="517.68" y2="496.81" stroke-width="1.5"/>
<line x1="513.79" y1="499.12" x2="516.25" y2="500.06" stroke-width="1.8"/>
<line x1="512.51" y1="502.37" x2="514.96" y2="503.36" stroke-width="1.8"/>
<line x1="511.17" y1="505.6" x2="513.61" y2="506.64" stroke-width="1.8"/>
<line x1="509.77" y1="508.81" x2="512.2" y2="509.89" stroke-width="1.8"/>
<line x1="508.32" y1="511.99" x2="510.74" y2="513.12" stroke-width="1.8"/>
<line x1="506.82" y1="515.15" x2="509.23" y2="516.32" stroke-width="1.8"/>
<line x1="505.26" y1="518.28" x2="507.66" y2="519.5" stroke-width="1.8"/>
<line x1="503.64" y1="521.38" x2="506.03" y2="522.65" stroke-width="1.8"/>
<line x1="501.97" y1="524.46" x2="504.35" y2="525.78" stroke-width="1.8"/>
<line x1="496.27" y1="525.2" x2="502.83" y2="528.99" stroke-width="1.5"/>
<line x1="498.48" y1="530.51" x2="500.84" y2="531.93" stroke-width="1.8"/>
<line x1="496.65" y1="533.5" x2="499" y2="534.97" stroke-width="1.8"/>
<line x1="494.77" y1="536.45" x2="497.11" y2="537.97" stroke-width="1.8"/>
<line x1="492.84" y1="539.36" x2="495.17" y2="540.94" stroke-width="1.8"/>
<line x1="490.86" y1="542.24" x2="493.18" y2="543.87" stroke-width="1.8"/>
<line x1="488.83" y1="545.09" x2="491.14" y2="546.77" stroke-width="1.8"/>
<line x1="486.75" y1="547.9" x2="489.05" y2="549.64" stroke-width="1.8"/>
<line x1="484.62" y1="550.68" x2="486.92" y2="552.47" stroke-width="1.8"/>
<line x1="482.44" y1="553.42" x2="484.73" y2="555.27" stroke-width="1.8"/>
<line x1="476.69" y1="553.16" x2="482.73" y2="558.22" stroke-width="1.5"/>
<line x1="477.94" y1="558.77" x2="480.21" y2="560.75" stroke-width="1.8"/>
<line x1="475.63" y1="561.39" x2="477.89" y2="563.43" stroke-width="1.8"/>
<line x1="473.26" y1="563.97" x2="475.51" y2="566.07" stroke-width="1.8"/>
<line x1="470.86" y1="566.51" x2="473.09" y2="568.67" stroke-width="1.8"/>
<line x1="468.4" y1="569" x2="470.63" y2="571.23" stroke-width="1.8"/>
<line x1="465.91" y1="571.46" x2="468.12" y2="573.75" stroke-width="1.8"/>
<line x1="463.37" y1="573.86" x2="465.57" y2="576.23" stroke-width="1.8"/>
<line x1="460.79" y1="576.23" x2="462.98" y2="578.66" stroke-width="1.8"/>
<line x1="458.17" y1="578.54" x2="460.35" y2="581.04" stroke-width="1.8"/>
<line x1="452.56" y1="577.29" x2="457.93" y2="583.7" stroke-width="1.5"/>
<line x1="452.82" y1="583.04" x2="454.96" y2="585.68" stroke-width="1.8"/>
<line x1="450.08" y1="585.22" x2="452.2" y2="587.93" stroke-width="1.8"/>
<line x1="447.3" y1="587.35" x2="449.41" y2="590.14" stroke-width="1.8"/>
<line x1="444.49" y1="589.43" x2="446.57" y2="592.29" stroke-width="1.8"/>
<line x1="441.64" y1="591.46" x2="443.7" y2="594.4" stroke-width="1.8"/>
<line x1="438.76" y1="593.44" x2="440.8" y2="596.46" stroke-width="1.8"/>
<line x1="435.85" y1="595.37" x2="437.85" y2="598.46" stroke-width="1.8"/>
<line x1="432.9" y1="597.25" x2="434.88" y2="600.42" stroke-width="1.8"/>
<line x1="429.91" y1="599.08" x2="431.86" y2="602.32" stroke-width="1.8"/>
<line x1="424.6" y1="596.87" x2="429.09" y2="604.64" stroke-width="1.5"/>
<line x1="423.86" y1="602.57" x2="425.74" y2="605.97" stroke-width="1.8"/>
<line x1="420.78" y1="604.24" x2="422.63" y2="607.72" stroke-width="1.8"/>
<line x1="417.68" y1="605.86" x2="419.49" y2="609.41" stroke-width="1.8"/>
<line x1="414.55" y1="607.42" x2="416.32" y2="611.05" stroke-width="1.8"/>
<line x1="411.39" y1="608.92" x2="413.12" y2="612.63" stroke-width="1.8"/>
<line x1="408.21" y1="610.37" x2="409.89" y2="614.15" stroke-width="1.8"/>
<line x1="405" y1="611.77" x2="406.64" y2="615.62" stroke-width="1.8"/>
<line x1="401.77" y1="613.11" x2="403.35" y2="617.03" stroke-width="1.8"/>
<line x1="398.52" y1="614.39" x2="400.05" y2="618.38" stroke-width="1.8"/>
<line x1="393.67" y1="611.29" x2="396.95" y2="620.3" stroke-width="1.5"/>
<line x1="391.94" y1="616.78" x2="393.36" y2="620.9" stroke-width="1.8"/>
<line x1="388.63" y1="617.89" x2="389.99" y2="622.08" stroke-width="1.8"/>
<line x1="385.29" y1="618.94" x2="386.59" y2="623.19" stroke-width="1.8"/>
<line x1="381.94" y1="619.94" x2="383.17" y2="624.24" stroke-width="1.8"/>
<line x1="378.57" y1="620.87" x2="379.74" y2="625.23" stroke-width="1.8"/>
<line x1="375.18" y1="621.75" x2="376.28" y2="626.16" stroke-width="1.8"/>
<line x1="371.78" y1="622.56" x2="372.81" y2="627.03" stroke-width="1.8"/>
<line x1="368.37" y1="623.32" x2="369.32" y2="627.83" stroke-width="1.8"/>
<line x1="364.94" y1="624.02" x2="365.82" y2="628.58" stroke-width="1.8"/>
<line x1="360.7" y1="620.13" x2="362.44" y2="630.01" stroke-width="1.5"/>
<line x1="358.05" y1="625.23" x2="358.78" y2="629.87" stroke-width="1.8"/>
<line x1="354.59" y1="625.75" x2="355.25" y2="630.42" stroke-width="1.8"/>
<line x1="351.12" y1="626.21" x2="351.7" y2="630.91" stroke-width="1.8"/>
<line x1="347.65" y1="626.6" x2="348.14" y2="631.33" stroke-width="1.8"/>
<line x1="344.17" y1="626.94" x2="344.58" y2="631.69" stroke-width="1.8"/>
<line x1="340.68" y1="627.21" x2="341.01" y2="631.98" stroke-width="1.8"/>
<line x1="337.19" y1="627.43" x2="337.44" y2="632.21" stroke-width="1.8"/>
<line x1="333.69" y1="627.58" x2="333.86" y2="632.37" stroke-width="1.8"/>
<line x1="330.2" y1="627.67" x2="330.28" y2="632.47" stroke-width="1.8"/>
</g>
<g font-size="12.7" text-anchor="middle" fill="#1c1c1c" stroke="#1c1c1c" stroke-width="0.5">
<text transform="translate(326.7 612.2) rotate(-180)" textLength="6.6" lengthAdjust="spacingAndGlyphs">0</text>
<text transform="translate(294.59 609.39) rotate(-170)" textLength="13.2" lengthAdjust="spacingAndGlyphs">10</text>
<text transform="translate(263.46 601.05) rotate(-160)" textLength="13.2" lengthAdjust="spacingAndGlyphs">20</text>
<text transform="translate(234.25 587.43) rotate(-150)" textLength="13.2" lengthAdjust="spacingAndGlyphs">30</text>
<text transform="translate(207.85 568.94) rotate(-140)" textLength="13.2" lengthAdjust="spacingAndGlyphs">40</text>
<text transform="translate(185.06 546.15) rotate(-130)" textLength="13.2" lengthAdjust="spacingAndGlyphs">50</text>
<text transform="translate(166.57 519.75) rotate(-120)" textLength="13.2" lengthAdjust="spacingAndGlyphs">60</text>
<text transform="translate(152.95 490.54) rotate(-110)" textLength="13.2" lengthAdjust="spacingAndGlyphs">70</text>
<text transform="translate(144.61 459.41) rotate(-100)" textLength="13.2" lengthAdjust="spacingAndGlyphs">80</text>
<text transform="translate(141.8 427.3) rotate(-90)" textLength="13.2" lengthAdjust="spacingAndGlyphs">90</text>
<text transform="translate(144.61 395.19) rotate(-80)" textLength="19.8" lengthAdjust="spacingAndGlyphs">100</text>
<text transform="translate(152.95 364.06) rotate(-70)" textLength="19.8" lengthAdjust="spacingAndGlyphs">110</text>
<text transform="translate(166.57 334.85) rotate(-60)" textLength="19.8" lengthAdjust="spacingAndGlyphs">120</text>
<text transform="translate(185.06 308.45) rotate(-50)" textLength="19.8" lengthAdjust="spacingAndGlyphs">130</text>
<text transform="translate(207.85 285.66) rotate(-40)" textLength="19.8" lengthAdjust="spacingAndGlyphs">140</text>
<text transform="translate(234.25 267.17) rotate(-30)" textLength="19.8" lengthAdjust="spacingAndGlyphs">150</text>
<text transform="translate(263.46 253.55) rotate(-20)" textLength="19.8" lengthAdjust="spacingAndGlyphs">160</text>
<text transform="translate(294.59 245.21) rotate(-10)" textLength="19.8" lengthAdjust="spacingAndGlyphs">170</text>
<text transform="translate(326.7 242.4) rotate(0)" textLength="19.8" lengthAdjust="spacingAndGlyphs">180</text>
<text transform="translate(358.81 245.21) rotate(10)" textLength="19.8" lengthAdjust="spacingAndGlyphs">190</text>
<text transform="translate(389.94 253.55) rotate(20)" textLength="19.8" lengthAdjust="spacingAndGlyphs">200</text>
<text transform="translate(419.15 267.17) rotate(30)" textLength="19.8" lengthAdjust="spacingAndGlyphs">210</text>
<text transform="translate(445.55 285.66) rotate(40)" textLength="19.8" lengthAdjust="spacingAndGlyphs">220</text>
<text transform="translate(468.34 308.45) rotate(50)" textLength="19.8" lengthAdjust="spacingAndGlyphs">230</text>
<text transform="translate(486.83 334.85) rotate(60)" textLength="19.8" lengthAdjust="spacingAndGlyphs">240</text>
<text transform="translate(500.45 364.06) rotate(70)" textLength="19.8" lengthAdjust="spacingAndGlyphs">250</text>
<text transform="translate(508.79 395.19) rotate(80)" textLength="19.8" lengthAdjust="spacingAndGlyphs">260</text>
<text transform="translate(511.6 427.3) rotate(90)" textLength="19.8" lengthAdjust="spacingAndGlyphs">270</text>
<text transform="translate(508.79 459.41) rotate(100)" textLength="19.8" lengthAdjust="spacingAndGlyphs">280</text>
<text transform="translate(500.45 490.54) rotate(110)" textLength="19.8" lengthAdjust="spacingAndGlyphs">290</text>
<text transform="translate(486.83 519.75) rotate(120)" textLength="19.8" lengthAdjust="spacingAndGlyphs">300</text>
<text transform="translate(468.34 546.15) rotate(130)" textLength="19.8" lengthAdjust="spacingAndGlyphs">310</text>
<text transform="translate(445.55 568.94) rotate(140)" textLength="19.8" lengthAdjust="spacingAndGlyphs">320</text>
<text transform="translate(419.15 587.43) rotate(150)" textLength="19.8" lengthAdjust="spacingAndGlyphs">330</text>
<text transform="translate(389.94 601.05) rotate(160)" textLength="19.8" lengthAdjust="spacingAndGlyphs">340</text>
<text transform="translate(358.81 609.39) rotate(170)" textLength="19.8" lengthAdjust="spacingAndGlyphs">350</text>
</g>
<g fill="#111">
<path transform="translate(237.45 581.89) rotate(-150)" d="M-4.2 -4.6 L0 2 L4.2 -4.6 L0 -1.6 Z"/>
<path transform="translate(204.96 296.75) rotate(-43)" d="M-4.2 -4.6 L0 2 L4.2 -4.6 L0 -1.6 Z"/>
<path transform="translate(237.45 272.71) rotate(-30)" d="M-4.2 -4.6 L0 2 L4.2 -4.6 L0 -1.6 Z"/>
<path transform="translate(415.95 272.71) rotate(30)" d="M-4.2 -4.6 L0 2 L4.2 -4.6 L0 -1.6 Z"/>
<path transform="translate(448.44 557.85) rotate(137)" d="M-4.2 -4.6 L0 2 L4.2 -4.6 L0 -1.6 Z"/>
<path transform="translate(415.95 581.89) rotate(150)" d="M-4.2 -4.6 L0 2 L4.2 -4.6 L0 -1.6 Z"/>
</g>
<g stroke="#3049ba" stroke-width="1.3" stroke-linecap="round">
<line x1="225" y1="183" x2="426" y2="671"/>
<line x1="427" y1="183" x2="225" y2="670"/>
<line x1="74" y1="322" x2="560.5" y2="526"/>
<line x1="73.5" y1="531" x2="561" y2="331"/>
</g>
<g transform="translate(236.6 35.2) scale(0.07510 0.07513) translate(-88 -70)"><g fill="none" stroke="#2b2b2b" stroke-width="16" stroke-linecap="round" stroke-linejoin="round">
<path d="M330 80 C288 110 288 175 330 205 C372 175 372 110 330 80 Z"/>
<path d="M330 205 C285 225 252 290 278 340 C293 368 320 374 334 362 C352 330 350 290 326 268 C304 290 300 330 318 356"/>
<path d="M330 205 C375 225 412 290 400 350 C396 366 386 376 368 382"/>
<path d="M212 122 C190 170 200 225 232 262 M212 122 C240 128 262 150 268 180"/>
<path d="M448 122 C470 170 460 225 428 262 M448 122 C420 128 398 150 392 180"/>
<path d="M160 165 C165 215 185 265 215 300"/>
<path d="M500 165 C495 215 475 265 445 300"/>
<path d="M160 165 C162 185 168 200 176 214" stroke-width="28"/>
<path d="M500 165 C498 185 492 200 484 214" stroke-width="28"/>
<path d="M176 250 C150 240 125 240 102 245 C115 300 160 355 222 378" stroke-width="18"/>
<path d="M484 250 C510 240 535 240 558 245 C545 300 500 355 438 378" stroke-width="18"/>
<path d="M128 342 C150 362 180 372 206 372" stroke-width="23"/>
<path d="M532 342 C510 362 480 372 454 372" stroke-width="23"/>
<path d="M174 400 C212 438 298 430 336 392" stroke-width="30"/>
<ellipse cx="425" cy="405" rx="66" ry="21" stroke-width="23"/>
</g></g>
<text x="277.3" y="59.3" font-size="25.6" fill="#2e2e2e" textLength="138" lengthAdjust="spacingAndGlyphs">Khải Toàn Phong thủy</text>
<text x="279" y="75.6" font-size="8.2" fill="#4a4a4a" textLength="95.5" lengthAdjust="spacing">Tâm an - vạn sự thông</text>
<g opacity="0.92">
<g transform="translate(273.6 294.6) scale(0.04310 0.04312) translate(-88 -70)"><g fill="none" stroke="#2b2b2b" stroke-width="16" stroke-linecap="round" stroke-linejoin="round">
<path d="M330 80 C288 110 288 175 330 205 C372 175 372 110 330 80 Z"/>
<path d="M330 205 C285 225 252 290 278 340 C293 368 320 374 334 362 C352 330 350 290 326 268 C304 290 300 330 318 356"/>
<path d="M330 205 C375 225 412 290 400 350 C396 366 386 376 368 382"/>
<path d="M212 122 C190 170 200 225 232 262 M212 122 C240 128 262 150 268 180"/>
<path d="M448 122 C470 170 460 225 428 262 M448 122 C420 128 398 150 392 180"/>
<path d="M160 165 C165 215 185 265 215 300"/>
<path d="M500 165 C495 215 475 265 445 300"/>
<path d="M160 165 C162 185 168 200 176 214" stroke-width="28"/>
<path d="M500 165 C498 185 492 200 484 214" stroke-width="28"/>
<path d="M176 250 C150 240 125 240 102 245 C115 300 160 355 222 378" stroke-width="18"/>
<path d="M484 250 C510 240 535 240 558 245 C545 300 500 355 438 378" stroke-width="18"/>
<path d="M128 342 C150 362 180 372 206 372" stroke-width="23"/>
<path d="M532 342 C510 362 480 372 454 372" stroke-width="23"/>
<path d="M174 400 C212 438 298 430 336 392" stroke-width="30"/>
<ellipse cx="425" cy="405" rx="66" ry="21" stroke-width="23"/>
</g></g>
<text x="296.8" y="309.2" font-size="17.2" fill="#333" textLength="86" lengthAdjust="spacingAndGlyphs">Khải Toàn Phong thủy</text>
<text x="275.7" y="318.3" font-size="4.3" fill="#555" textLength="109" lengthAdjust="spacingAndGlyphs">Thành công nhờ kiên trì. Trí tuệ nhờ Chánh niệm.</text>
</g>
<g opacity="0.92">
<g transform="translate(287.2 541.2) scale(0.03180 0.03175) translate(-88 -70)"><g fill="none" stroke="#2b2b2b" stroke-width="16" stroke-linecap="round" stroke-linejoin="round">
<path d="M330 80 C288 110 288 175 330 205 C372 175 372 110 330 80 Z"/>
<path d="M330 205 C285 225 252 290 278 340 C293 368 320 374 334 362 C352 330 350 290 326 268 C304 290 300 330 318 356"/>
<path d="M330 205 C375 225 412 290 400 350 C396 366 386 376 368 382"/>
<path d="M212 122 C190 170 200 225 232 262 M212 122 C240 128 262 150 268 180"/>
<path d="M448 122 C470 170 460 225 428 262 M448 122 C420 128 398 150 392 180"/>
<path d="M160 165 C165 215 185 265 215 300"/>
<path d="M500 165 C495 215 475 265 445 300"/>
<path d="M160 165 C162 185 168 200 176 214" stroke-width="28"/>
<path d="M500 165 C498 185 492 200 484 214" stroke-width="28"/>
<path d="M176 250 C150 240 125 240 102 245 C115 300 160 355 222 378" stroke-width="18"/>
<path d="M484 250 C510 240 535 240 558 245 C545 300 500 355 438 378" stroke-width="18"/>
<path d="M128 342 C150 362 180 372 206 372" stroke-width="23"/>
<path d="M532 342 C510 362 480 372 454 372" stroke-width="23"/>
<path d="M174 400 C212 438 298 430 336 392" stroke-width="30"/>
<ellipse cx="425" cy="405" rx="66" ry="21" stroke-width="23"/>
</g></g>
<text x="305" y="552" font-size="11.6" fill="#333" textLength="62" lengthAdjust="spacingAndGlyphs">Khải Toàn Phong thủy</text>
<text x="305" y="557.3" font-size="3.6" fill="#777" textLength="39" lengthAdjust="spacingAndGlyphs">phongthuykhaitoan.com</text>
<text x="287.4" y="563.2" font-size="3.4" fill="#555" textLength="80" lengthAdjust="spacingAndGlyphs">Thành công nhờ kiên trì. Trí tuệ nhờ Chánh niệm.</text>
</g>
<rect x="210.4" y="324.5" width="236.79999999999998" height="215.5" fill="#777" opacity="0.42" filter="url(#sh)"/>
<rect x="209.4" y="323.0" width="78.6" height="72" fill="#8cc63e"/>
<rect x="288.0" y="323.0" width="79" height="72" fill="#fe0000"/>
<rect x="367.0" y="323.0" width="77.7" height="72" fill="#953735"/>
<rect x="209.4" y="395.0" width="78.6" height="72" fill="#8cc63e"/>
<rect x="288.0" y="395.0" width="79" height="72" fill="#953735"/>
<rect x="367.0" y="395.0" width="77.7" height="72" fill="#d8d8d8"/>
<rect x="209.4" y="467.0" width="78.6" height="70.5" fill="#953735"/>
<rect x="288.0" y="467.0" width="79" height="70.5" fill="#4a8bd6"/>
<rect x="367.0" y="467.0" width="77.7" height="70.5" fill="#d8d8d8"/>
<g text-anchor="middle" fill="#111" stroke="#111" stroke-width="0.28">
<text class="b" x="248.6" y="352.3" font-size="14.6" textLength="9.2" lengthAdjust="spacingAndGlyphs">4</text>
<text class="b" x="248.6" y="362.2" font-size="9.3" textLength="40" lengthAdjust="spacingAndGlyphs">Tứ Lục (-)</text>
<text class="lt" x="248.6" y="373.6" font-size="9.1" fill="#333" stroke="#333" stroke-width="0.22" textLength="43" lengthAdjust="spacingAndGlyphs">(Mộc Tinh)</text>
<text class="b" x="248.6" y="383.2" font-size="9.3" textLength="14.3" lengthAdjust="spacingAndGlyphs">Cát</text>
</g>
<g text-anchor="middle" fill="#fff" stroke="#fff" stroke-width="0.28">
<text class="b" x="327.3" y="352.3" font-size="14.6" textLength="9.2" lengthAdjust="spacingAndGlyphs">9</text>
<text class="b" x="327.3" y="362.2" font-size="9.3" textLength="42.5" lengthAdjust="spacingAndGlyphs">Cửu Tử (-)</text>
<text class="lt" x="327.3" y="373.6" font-size="9.1" fill="#ffd9d4" stroke="#ffd9d4" stroke-width="0.22" textLength="41.2" lengthAdjust="spacingAndGlyphs">(Hỏa Tinh)</text>
<text class="b" x="327.3" y="383.2" font-size="9.3" textLength="34" lengthAdjust="spacingAndGlyphs">Cát tinh</text>
</g>
<g text-anchor="middle" fill="#fff" stroke="#fff" stroke-width="0.28">
<text class="b" x="406.3" y="352.3" font-size="14.6" textLength="9.2" lengthAdjust="spacingAndGlyphs">2</text>
<text class="b" x="406.3" y="362.2" font-size="9.3" textLength="47.4" lengthAdjust="spacingAndGlyphs">Nhị Hắc (-)</text>
<text class="lt" x="406.3" y="373.6" font-size="9.1" fill="#ecd6d5" stroke="#ecd6d5" stroke-width="0.22" textLength="39.8" lengthAdjust="spacingAndGlyphs">(Thổ Tinh)</text>
<text class="b" x="406.3" y="383.2" font-size="9.3" textLength="42" lengthAdjust="spacingAndGlyphs">Hung tinh</text>
</g>
<g text-anchor="middle" fill="#111" stroke="#111" stroke-width="0.28">
<text class="b" x="248.6" y="426.2" font-size="14.6" textLength="9.2" lengthAdjust="spacingAndGlyphs">3</text>
<text class="b" x="248.6" y="437.0" font-size="9.3" textLength="55.3" lengthAdjust="spacingAndGlyphs">Tam Bích (+)</text>
<text class="lt" x="248.6" y="447.4" font-size="9.1" fill="#333" stroke="#333" stroke-width="0.22" textLength="43" lengthAdjust="spacingAndGlyphs">(Mộc Tinh)</text>
<text class="b" x="248.6" y="457.5" font-size="9.3" textLength="42" lengthAdjust="spacingAndGlyphs">Hung tinh</text>
</g>
<g text-anchor="middle" fill="#fff" stroke="#fff" stroke-width="0.28">
<text class="b" x="327.3" y="426.2" font-size="14.6" textLength="9.2" lengthAdjust="spacingAndGlyphs">5</text>
<text class="b" x="327.3" y="437.0" font-size="9.3" textLength="50" lengthAdjust="spacingAndGlyphs">Ngũ Hoàng</text>
<text class="lt" x="327.3" y="447.4" font-size="9.1" fill="#ecd6d5" stroke="#ecd6d5" stroke-width="0.22" textLength="39.8" lengthAdjust="spacingAndGlyphs">(Thổ Tinh)</text>
<text class="b" x="327.3" y="457.5" font-size="9.3" textLength="42" lengthAdjust="spacingAndGlyphs">Hung tinh</text>
</g>
<g text-anchor="middle" fill="#111" stroke="#111" stroke-width="0.28">
<text class="b" x="406.3" y="426.2" font-size="14.6" textLength="9.2" lengthAdjust="spacingAndGlyphs">7</text>
<text class="b" x="406.3" y="437.0" font-size="9.3" textLength="54" lengthAdjust="spacingAndGlyphs">Thất Xích (-)</text>
<text class="lt" x="406.3" y="447.4" font-size="9.1" fill="#444" stroke="#444" stroke-width="0.22" textLength="38" lengthAdjust="spacingAndGlyphs">(Kim Tinh)</text>
<text class="b" x="406.3" y="457.5" font-size="9.3" textLength="42" lengthAdjust="spacingAndGlyphs">Hung tinh</text>
</g>
<g text-anchor="middle" fill="#fff" stroke="#fff" stroke-width="0.28">
<text class="b" x="248.6" y="496.2" font-size="14.6" textLength="9.2" lengthAdjust="spacingAndGlyphs">8</text>
<text class="b" x="248.6" y="506.7" font-size="9.3" textLength="52.8" lengthAdjust="spacingAndGlyphs">Bát Bạch (+)</text>
<text class="lt" x="248.6" y="516.8" font-size="9.1" fill="#ecd6d5" stroke="#ecd6d5" stroke-width="0.22" textLength="39.8" lengthAdjust="spacingAndGlyphs">(Thổ Tinh)</text>
<text class="b" x="248.6" y="526.6" font-size="9.3" textLength="34" lengthAdjust="spacingAndGlyphs">Cát tinh</text>
</g>
<g text-anchor="middle" fill="#fff" stroke="#fff" stroke-width="0.28">
<text class="b" x="327.3" y="496.2" font-size="14.6" textLength="9.2" lengthAdjust="spacingAndGlyphs">1</text>
<text class="b" x="327.3" y="506.7" font-size="9.3" textLength="60.5" lengthAdjust="spacingAndGlyphs">Nhất Bạch (+)</text>
<text class="lt" x="327.3" y="516.8" font-size="9.1" fill="#dce9f8" stroke="#dce9f8" stroke-width="0.22" textLength="45" lengthAdjust="spacingAndGlyphs">(Thủy Tinh)</text>
<text class="b" x="327.3" y="526.6" font-size="9.3" textLength="34" lengthAdjust="spacingAndGlyphs">Cát tinh</text>
</g>
<g text-anchor="middle" fill="#111" stroke="#111" stroke-width="0.28">
<text class="b" x="406.3" y="497.2" font-size="14.6" textLength="9.2" lengthAdjust="spacingAndGlyphs">6</text>
<text class="b" x="406.3" y="507.7" font-size="9.3" textLength="56" lengthAdjust="spacingAndGlyphs">Lục Bạch (+)</text>
<text class="lt" x="406.3" y="517.8" font-size="9.1" fill="#444" stroke="#444" stroke-width="0.22" textLength="38" lengthAdjust="spacingAndGlyphs">(Kim Tinh)</text>
<text class="b" x="406.3" y="527.6" font-size="9.3" textLength="34" lengthAdjust="spacingAndGlyphs">Cát tinh</text>
</g>
<text class="lt" stroke="#d9372a" stroke-width="0.35" x="328.6" y="123.6" font-size="18.4" letter-spacing="-1.3" fill="#d9372a" text-anchor="middle" textLength="277.5" lengthAdjust="spacingAndGlyphs">HƯỚNG LẠY CÚNG GIẢI HẠN</text>
<line x1="191" y1="128.6" x2="466.6" y2="128.6" stroke="#d9372a" stroke-width="1.1"/>
<text class="lt" stroke="#d9372a" stroke-width="0.35" x="327" y="714.6" font-size="21" letter-spacing="-1.2" fill="#d9372a" text-anchor="middle" textLength="267" lengthAdjust="spacingAndGlyphs">Cúng Tam tai - cúng Thái tuế</text>
<line x1="193.5" y1="719.8" x2="460.6" y2="719.8" stroke="#d9372a" stroke-width="1.1"/>
<text x="54.9" y="372.5" font-size="18.6" fill="#111" textLength="42.5" lengthAdjust="spacingAndGlyphs">2023</text>
<line x1="54.9" y1="376.2" x2="97.4" y2="376.2" stroke="#111" stroke-width="1.15"/>
<text class="b" stroke="#111" stroke-width="0.8" x="74.6" y="249.4" font-size="18.6" fill="#111" textLength="47.2" lengthAdjust="spacingAndGlyphs">2024</text>
<line x1="74.6" y1="253.2" x2="121.8" y2="253.2" stroke="#111" stroke-width="1.7"/>
<text class="b" stroke="#111" stroke-width="0.8" x="155.8" y="196.7" font-size="18.6" fill="#111" textLength="47.5" lengthAdjust="spacingAndGlyphs">2025</text>
<line x1="155.8" y1="200.3" x2="203.3" y2="200.3" stroke="#111" stroke-width="1.7"/>
<text x="351.3" y="165.6" font-size="18.6" fill="#111" textLength="42.7" lengthAdjust="spacingAndGlyphs">2026</text>
<line x1="351.3" y1="169.3" x2="394" y2="169.3" stroke="#111" stroke-width="1.15"/>
<text x="460.6" y="196.3" font-size="18.6" fill="#111" textLength="42.1" lengthAdjust="spacingAndGlyphs">2027</text>
<line x1="460.6" y1="199.8" x2="502.7" y2="199.8" stroke="#111" stroke-width="1.15"/>
<text x="537.3" y="288.7" font-size="18.6" fill="#111" textLength="42.1" lengthAdjust="spacingAndGlyphs">2028</text>
<line x1="537.3" y1="292.4" x2="579.4" y2="292.4" stroke="#111" stroke-width="1.15"/>
<text x="566" y="368.7" font-size="18.6" fill="#111" textLength="41.8" lengthAdjust="spacingAndGlyphs">2029</text>
<line x1="566" y1="372.2" x2="607.8" y2="372.2" stroke="#111" stroke-width="1.15"/>
<text x="551" y="579.6" font-size="18.6" fill="#111" textLength="42.8" lengthAdjust="spacingAndGlyphs">2030</text>
<line x1="551" y1="583" x2="593.8" y2="583" stroke="#111" stroke-width="1.15"/>
<g transform="translate(101.7 404.4) rotate(65.88)" stroke="#e3242e" fill="#e3242e" stroke-linecap="round" stroke-linejoin="round"><line x1="-25.2" y1="0" x2="-2" y2="0" stroke-width="1.7"/><path d="M0.6 0 L-8 -4.3 L-5.6 0 L-8 4.3 Z" stroke-width="0.6"/></g>
<g transform="translate(125 284) rotate(39.32)" stroke="#e3242e" fill="#e3242e" stroke-linecap="round" stroke-linejoin="round"><line x1="-27.14" y1="0" x2="-2" y2="0" stroke-width="1.7"/><path d="M0.6 0 L-8 -4.3 L-5.6 0 L-8 4.3 Z" stroke-width="0.6"/></g>
<g transform="translate(209.7 238.3) rotate(69.3)" stroke="#e3242e" fill="#e3242e" stroke-linecap="round" stroke-linejoin="round"><line x1="-28.01" y1="0" x2="-2" y2="0" stroke-width="1.7"/><path d="M0.6 0 L-8 -4.3 L-5.6 0 L-8 4.3 Z" stroke-width="0.6"/></g>
<g transform="translate(351.9 198) rotate(118.66)" stroke="#e3242e" fill="#e3242e" stroke-linecap="round" stroke-linejoin="round"><line x1="-25.64" y1="0" x2="-2" y2="0" stroke-width="1.7"/><path d="M0.6 0 L-8 -4.3 L-5.6 0 L-8 4.3 Z" stroke-width="0.6"/></g>
<g transform="translate(458.2 233.7) rotate(117.04)" stroke="#e3242e" fill="#e3242e" stroke-linecap="round" stroke-linejoin="round"><line x1="-27.06" y1="0" x2="-2" y2="0" stroke-width="1.7"/><path d="M0.6 0 L-8 -4.3 L-5.6 0 L-8 4.3 Z" stroke-width="0.6"/></g>
<g transform="translate(502.7 290.8) rotate(157.7)" stroke="#e3242e" fill="#e3242e" stroke-linecap="round" stroke-linejoin="round"><line x1="-27.67" y1="0" x2="-2" y2="0" stroke-width="1.7"/><path d="M0.6 0 L-8 -4.3 L-5.6 0 L-8 4.3 Z" stroke-width="0.6"/></g>
<g transform="translate(546.3 400.7) rotate(133.77)" stroke="#e3242e" fill="#e3242e" stroke-linecap="round" stroke-linejoin="round"><line x1="-26.31" y1="0" x2="-2" y2="0" stroke-width="1.7"/><path d="M0.6 0 L-8 -4.3 L-5.6 0 L-8 4.3 Z" stroke-width="0.6"/></g>
<g transform="translate(520.7 563.4) rotate(-170.08)" stroke="#e3242e" fill="#e3242e" stroke-linecap="round" stroke-linejoin="round"><line x1="-26.7" y1="0" x2="-2" y2="0" stroke-width="1.7"/><path d="M0.6 0 L-8 -4.3 L-5.6 0 L-8 4.3 Z" stroke-width="0.6"/></g>
<text class="b" transform="translate(326.2 189) rotate(0)" font-size="10.2" fill="#d42a20" stroke="#d42a20" stroke-width="0.35" text-anchor="middle" textLength="35.2" lengthAdjust="spacingAndGlyphs" dy="0.36em">LY (-) 9</text>
<text class="b" transform="translate(325.3 207.2) rotate(0)" font-size="9.6" fill="#d42a20" stroke="#d42a20" stroke-width="0.35" text-anchor="middle" textLength="24.7" lengthAdjust="spacingAndGlyphs" dy="0.36em">NAM</text>
<text class="b" transform="translate(496 251) rotate(45)" font-size="10.2" fill="#151515" stroke="#151515" stroke-width="0.35" text-anchor="middle" textLength="54.5" lengthAdjust="spacingAndGlyphs" dy="0.36em">KHÔN (-) 2</text>
<text class="b" transform="translate(478 265) rotate(45)" font-size="10.2" fill="#8e1b1b" stroke="#8e1b1b" stroke-width="0.35" text-anchor="middle" textLength="42.5" lengthAdjust="spacingAndGlyphs" dy="0.36em">TÂY-NAM</text>
<text class="b" transform="translate(569.3 426.5) rotate(90)" font-size="10.2" fill="#151515" stroke="#151515" stroke-width="0.35" text-anchor="middle" textLength="55.5" lengthAdjust="spacingAndGlyphs" dy="0.36em">ĐOÀI (-) 7</text>
<text class="b" transform="translate(550 426.7) rotate(90)" font-size="10.2" fill="#444" stroke="#444" stroke-width="0.35" text-anchor="middle" textLength="19.4" lengthAdjust="spacingAndGlyphs" dy="0.36em">TÂY</text>
<text class="b" transform="translate(502.7 592.8) rotate(135)" font-size="10.2" fill="#151515" stroke="#151515" stroke-width="0.35" text-anchor="middle" textLength="49.5" lengthAdjust="spacingAndGlyphs" dy="0.36em">CÀN (+) 6</text>
<text class="b" transform="translate(488.7 579.5) rotate(135)" font-size="10.2" fill="#444" stroke="#444" stroke-width="0.35" text-anchor="middle" textLength="39" lengthAdjust="spacingAndGlyphs" dy="0.36em">TÂY-BẮC</text>
<text class="b" transform="translate(328.5 670) rotate(180)" font-size="10.2" fill="#151515" stroke="#151515" stroke-width="0.35" text-anchor="middle" textLength="61.6" lengthAdjust="spacingAndGlyphs" dy="0.36em">KHẢM (+) 1</text>
<text class="b" transform="translate(327.7 651) rotate(180)" font-size="9.6" fill="#2a35c6" stroke="#2a35c6" stroke-width="0.35" text-anchor="middle" textLength="24" lengthAdjust="spacingAndGlyphs" dy="0.36em">BẮC</text>
<text class="b" transform="translate(159.4 610.3) rotate(-139.5)" font-size="10.2" fill="#151515" stroke="#151515" stroke-width="0.35" text-anchor="middle" textLength="51.5" lengthAdjust="spacingAndGlyphs" dy="0.36em">CẤN (+) 8</text>
<text class="b" transform="translate(179.5 597.3) rotate(-139)" font-size="10.2" fill="#8e1b1b" stroke="#8e1b1b" stroke-width="0.35" text-anchor="middle" textLength="58" lengthAdjust="spacingAndGlyphs" dy="0.36em">ĐÔNG-BẮC</text>
<text class="b" transform="translate(84.7 430.5) rotate(-90)" font-size="10.2" fill="#151515" stroke="#151515" stroke-width="0.35" text-anchor="middle" textLength="61.5" lengthAdjust="spacingAndGlyphs" dy="0.36em">CHẤN (+) 3</text>
<text class="b" transform="translate(103.6 431.5) rotate(-90)" font-size="10.2" fill="#4db848" stroke="#4db848" stroke-width="0.35" text-anchor="middle" textLength="32.5" lengthAdjust="spacingAndGlyphs" dy="0.36em">ĐÔNG</text>
<text class="b" transform="translate(147.5 263) rotate(-45)" font-size="10.2" fill="#151515" stroke="#151515" stroke-width="0.35" text-anchor="middle" textLength="42.5" lengthAdjust="spacingAndGlyphs" dy="0.36em">TỐN (-) 4</text>
<text class="b" transform="translate(160.3 278.7) rotate(-45)" font-size="10.2" fill="#4db848" stroke="#4db848" stroke-width="0.35" text-anchor="middle" textLength="59" lengthAdjust="spacingAndGlyphs" dy="0.36em">ĐÔNG-NAM</text>
<text class="lt" transform="translate(275.6 212) rotate(-10)" font-size="12.4" fill="#e0503f" stroke="#e0503f" stroke-width="0.42" text-anchor="middle" textLength="22" lengthAdjust="spacingAndGlyphs" dy="0.36em">Hỏa</text>
<text class="lt" transform="translate(439 234) rotate(27)" font-size="12.4" fill="#a8574c" stroke="#a8574c" stroke-width="0.42" text-anchor="middle" textLength="21.5" lengthAdjust="spacingAndGlyphs" dy="0.36em">Thổ</text>
<text class="lt" transform="translate(538.5 376.5) rotate(73)" font-size="12.4" fill="#777" stroke="#777" stroke-width="0.42" text-anchor="middle" textLength="20" lengthAdjust="spacingAndGlyphs" dy="0.36em">Kim</text>
<text class="lt" transform="translate(515.5 542.5) rotate(118)" font-size="12.4" fill="#777" stroke="#777" stroke-width="0.42" text-anchor="middle" textLength="19" lengthAdjust="spacingAndGlyphs" dy="0.36em">Kim</text>
<text class="lt" transform="translate(375.4 647) rotate(172)" font-size="12.4" fill="#3a45c8" stroke="#3a45c8" stroke-width="0.42" text-anchor="middle" textLength="23.5" lengthAdjust="spacingAndGlyphs" dy="0.36em">Thủy</text>
<text class="lt" transform="translate(218.5 626.3) rotate(-158)" font-size="12.4" fill="#a34a42" stroke="#a34a42" stroke-width="0.42" text-anchor="middle" textLength="21.5" lengthAdjust="spacingAndGlyphs" dy="0.36em">Thổ</text>
<text class="lt" transform="translate(111.7 485) rotate(-82)" font-size="12.4" fill="#5cb85c" stroke="#5cb85c" stroke-width="0.42" text-anchor="middle" textLength="26" lengthAdjust="spacingAndGlyphs" dy="0.36em">Mộc</text>
<text class="lt" transform="translate(126.3 321.3) rotate(-53)" font-size="12.4" fill="#5cb85c" stroke="#5cb85c" stroke-width="0.42" text-anchor="middle" textLength="26" lengthAdjust="spacingAndGlyphs" dy="0.36em">Mộc</text>
</svg></body></html>
